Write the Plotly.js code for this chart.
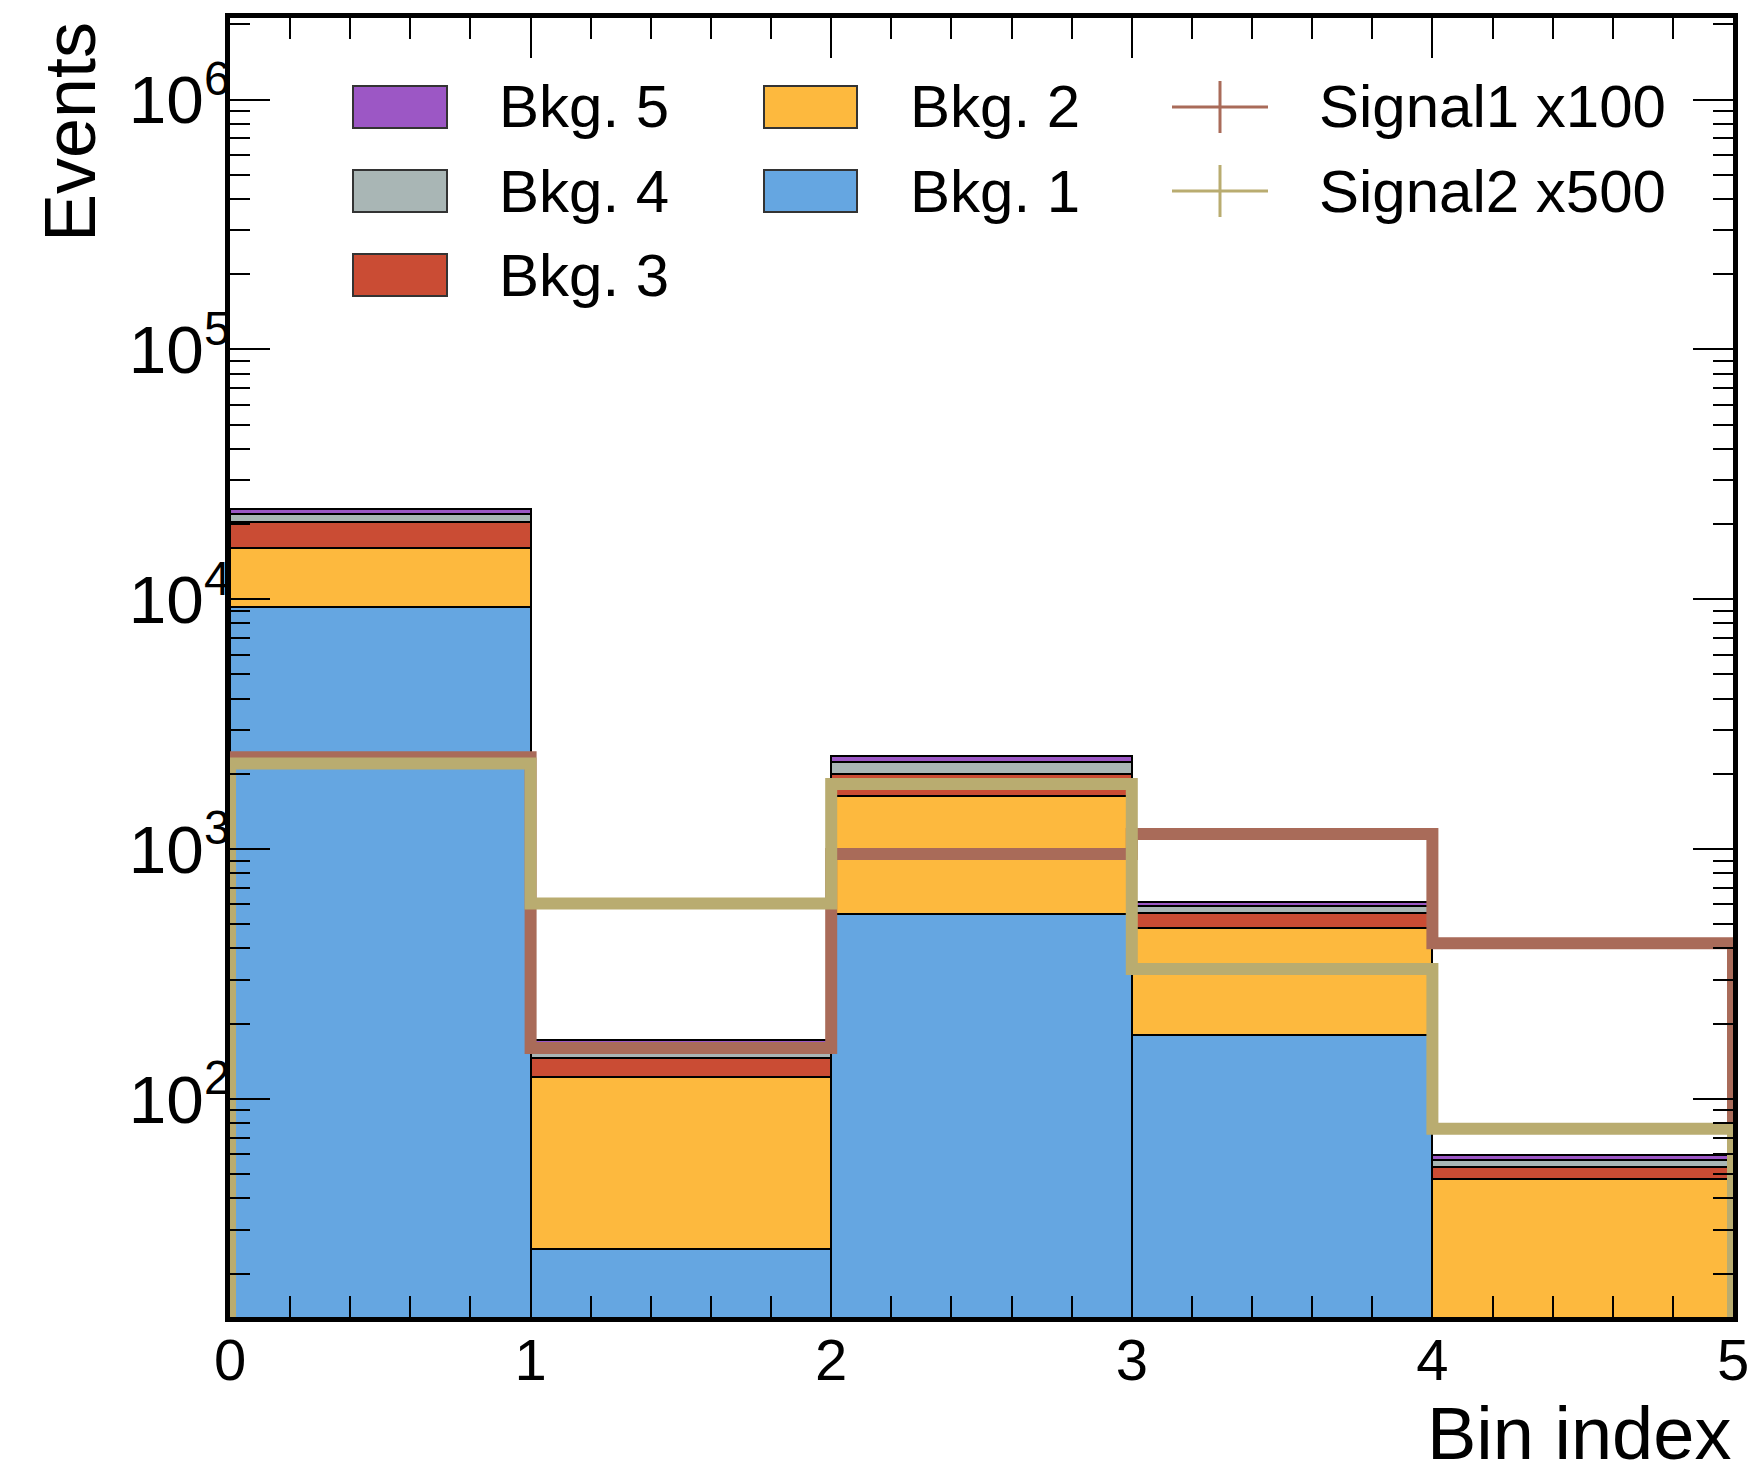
<!DOCTYPE html>
<html><head><meta charset="utf-8">
<script src="https://cdn.plot.ly/plotly-3.0.1.min.js"></script>
<style>html,body{margin:0;padding:0;background:#fff;}</style>
</head><body>
<div id="chart" style="width:1753px;height:1473px;"></div>
<script>
// ---- data ----
const binEdges = [0, 1, 2, 3, 4, 5];
const xTickLabels = ['0', '1', '2', '3', '4', '5'];
const bkg1 = [9300, 25, 550, 180, 8];
const bkg2 = [6700, 97, 1080, 303, 40];
const bkg3 = [4300, 24, 365, 72, 5.5];
const bkg4 = [1600, 12, 235, 37, 3.5];
const bkg5 = [1000, 14, 125, 22, 2.5];
const signal1 = [2330, 160, 955, 1150, 420];
const signal2 = [2200, 605, 1820, 331, 76];
const bkgNames = ['Bkg. 1', 'Bkg. 2', 'Bkg. 3', 'Bkg. 4', 'Bkg. 5'];
const signalNames = ['Signal1 x100', 'Signal2 x500'];

// ---- styles ----
const bkgColors = ['#65a6e1', '#fdb93e', '#ca4c34', '#a9b6b5', '#9c57c5'];
const sigColors = ['#a96b59', '#b9ac70'];
const FONT = 'Liberation Sans, Arial, Helvetica, sans-serif';

const centers = binEdges.slice(0, -1).map((e, i) => (e + binEdges[i + 1]) / 2);
const widths = binEdges.slice(0, -1).map((e, i) => binEdges[i + 1] - e);
const bkgs = [bkg1, bkg2, bkg3, bkg4, bkg5];

const traces = bkgs.map((vals, i) => ({
  type: 'bar', x: centers, y: vals, width: widths, name: bkgNames[i],
  marker: {color: bkgColors[i], line: {color: '#000', width: 2}},
  showlegend: false, hoverinfo: 'skip'
}));

function stepLine(vals, name, color) {
  const base = 1;
  const xs = [binEdges[0]].concat(binEdges).concat([binEdges[binEdges.length - 1]]);
  const ys = [base].concat(vals).concat([vals[vals.length - 1], base]);
  return {type: 'scatter', mode: 'lines', x: xs, y: ys, name: name,
    line: {color: color, width: 12, shape: 'hv'}, showlegend: false, hoverinfo: 'skip'};
}
traces.push(stepLine(signal1, signalNames[0], sigColors[0]));
traces.push(stepLine(signal2, signalNames[1], sigColors[1]));

// ---- pixel helpers for layout placement ----
const L = 230, R = 1733, T = 18, B = 1317;
const px = x => (x - L) / (R - L);
const py = y => (B - y) / (B - T);

const shapes = [];
const annotations = [];
const rowY = [107, 191, 275];
function boxEntry(col, row, color, text) {
  const xs = [[353, 447, 497], [764, 857, 908]][col];
  shapes.push({type: 'rect', xref: 'paper', yref: 'paper',
    x0: px(xs[0]), x1: px(xs[1]), y0: py(rowY[row] - 21), y1: py(rowY[row] + 21),
    fillcolor: color, line: {color: '#333', width: 2}});
  annotations.push({xref: 'paper', yref: 'paper', x: px(xs[2]), y: py(rowY[row]),
    xanchor: 'left', yanchor: 'middle', text: text, showarrow: false,
    font: {family: FONT, size: 60, color: '#000'}});
}
boxEntry(0, 0, bkgColors[4], bkgNames[4]);
boxEntry(0, 1, bkgColors[3], bkgNames[3]);
boxEntry(0, 2, bkgColors[2], bkgNames[2]);
boxEntry(1, 0, bkgColors[1], bkgNames[1]);
boxEntry(1, 1, bkgColors[0], bkgNames[0]);
function crossEntry(row, color, text) {
  shapes.push({type: 'line', xref: 'paper', yref: 'paper', x0: px(1172), x1: px(1268),
    y0: py(rowY[row]), y1: py(rowY[row]), line: {color: color, width: 3}});
  shapes.push({type: 'line', xref: 'paper', yref: 'paper', x0: px(1220), x1: px(1220),
    y0: py(rowY[row] - 26), y1: py(rowY[row] + 26), line: {color: color, width: 3}});
  annotations.push({xref: 'paper', yref: 'paper', x: px(1317), y: py(rowY[row]),
    xanchor: 'left', yanchor: 'middle', text: text, showarrow: false,
    font: {family: FONT, size: 60, color: '#000'}});
}
crossEntry(0, sigColors[0], signalNames[0]);
crossEntry(1, sigColors[1], signalNames[1]);

// axis titles
annotations.push({xref: 'paper', yref: 'paper', x: px(70), y: py(20), xanchor: 'center', yanchor: 'top',
  text: 'Events', textangle: -90, showarrow: false, font: {family: FONT, size: 72, color: '#000'}});
annotations.push({xref: 'paper', yref: 'paper', x: 1, y: py(1433), xanchor: 'right', yanchor: 'middle',
  height: 66, valign: 'middle',
  text: 'Bin index', showarrow: false, font: {family: FONT, size: 74, color: '#000'}});

const layout = {
  width: 1753, height: 1473,
  margin: {l: L, r: 1753 - R, t: T, b: 1473 - B, pad: 0},
  paper_bgcolor: '#fff', plot_bgcolor: '#fff',
  barmode: 'stack', bargap: 0,
  showlegend: false,
  font: {family: FONT, color: '#000'},
  xaxis: {
    range: [binEdges[0], binEdges[binEdges.length - 1]],
    tickmode: 'array', tickvals: binEdges, ticktext: xTickLabels,
    ticks: 'inside', ticklen: 40, tickwidth: 2, tickcolor: '#000',
    minor: {ticks: 'inside', dtick: 0.2, tick0: 0, ticklen: 21, tickwidth: 2, tickcolor: '#000', showgrid: false},
    showline: true, linewidth: 5, linecolor: '#000', mirror: 'allticks',
    showgrid: false, zeroline: false,
    tickfont: {family: FONT, size: 58, color: '#000'}, ticklabelstandoff: -12
  },
  yaxis: {
    type: 'log', range: [Math.log10(13.4), Math.log10(2.12e6)],
    dtick: 1, exponentformat: 'power', showexponent: 'all',
    ticks: 'inside', ticklen: 40, tickwidth: 2, tickcolor: '#000',
    minor: {ticks: 'inside', dtick: 'D1', ticklen: 20, tickwidth: 2, tickcolor: '#000', showgrid: false},
    showline: true, linewidth: 5, linecolor: '#000', mirror: 'allticks',
    showgrid: false, zeroline: false,
    tickfont: {family: FONT, size: 54, color: '#000'}, ticklabelstandoff: -16
  },
  shapes: shapes,
  annotations: annotations
};

Plotly.newPlot('chart', traces, layout, {displayModeBar: false, staticPlot: true});
</script>
</body></html>
